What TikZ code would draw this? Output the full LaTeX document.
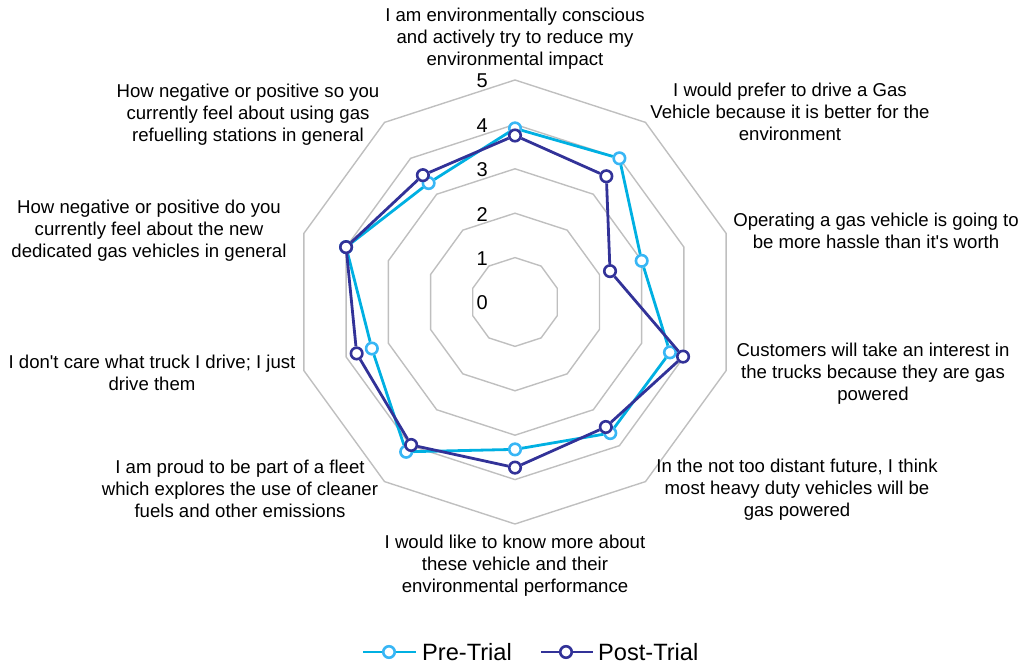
\documentclass[tikz,border=0pt]{standalone}
\usepackage{fontspec}
\setmainfont{Liberation Sans}[Ligatures=TeXOff]
\definecolor{ringgray}{RGB}{191,191,191}
\definecolor{preline}{RGB}{0,176,226}
\definecolor{premark}{RGB}{56,182,245}
\definecolor{postline}{RGB}{50,50,152}
\begin{document}
\begin{tikzpicture}[x=1bp,y=1bp,
  font=\fontsize{18.6bp}{22bp}\selectfont,
  ring/.style={draw=ringgray, line width=1.4bp, line join=miter},
  lbl/.style={align=center, inner sep=0pt},
  tick/.style={anchor=east, inner sep=0pt, font=\fontsize{20bp}{22bp}\selectfont},
  premk/.style={circle, draw=premark, fill=white, line width=2.6bp, minimum size=11.5bp, inner sep=0pt},
  postmk/.style={circle, draw=postline, fill=white, line width=2.6bp, minimum size=11.5bp, inner sep=0pt},
  preln/.style={draw=preline, line width=2.8bp, line join=round},
  postln/.style={draw=postline, line width=2.8bp, line join=round},
  legtext/.style={anchor=west, inner sep=0pt, font=\fontsize{23.6bp}{26bp}\selectfont}]
\useasboundingbox (0,0) rectangle (1025,666);
\begin{scope}[shift={(515,364)}]
  % rings
  \foreach \k in {1,...,5} {
    \draw[ring] (90:\k*44.4) \foreach \i in {1,...,9} { -- ({90-36*\i}:\k*44.4) } -- cycle;
  }
  % tick labels
  \foreach \k in {0,...,5} {
    \node[tick] (t\k) at (-27,\k*44.4-1) {\k};
  }
  % pre-trial series
  \foreach \v [count=\i from 0] in {3.91,4.0,3.0,3.67,3.65,3.32,4.17,3.39,4.0,3.31} {
    \node[premk] (pre\i) at ({90-36*\i}:\v*44.4) {};
  }
  \draw[preln] (pre0) -- (pre1) -- (pre2) -- (pre3) -- (pre4) -- (pre5) -- (pre6) -- (pre7) -- (pre8) -- (pre9) -- (pre0);
  % post-trial series
  \foreach \v [count=\i from 0] in {3.75,3.5,2.25,3.98,3.48,3.73,3.98,3.75,4.0,3.53} {
    \node[postmk] (post\i) at ({90-36*\i}:\v*44.4) {};
  }
  \draw[postln] (post0) -- (post1) -- (post2) -- (post3) -- (post4) -- (post5) -- (post6) -- (post7) -- (post8) -- (post9) -- (post0);
\end{scope}
% axis labels
\node[lbl] (L0) at (515,627) {I am environmentally conscious\\and actively try to reduce my\\environmental impact};
\node[lbl] (L1) at (790,554) {I would prefer to drive a Gas\\Vehicle because it is better for the\\environment};
\node[lbl] (L2) at (876,435) {Operating a gas vehicle is going to\\be more hassle than it's worth};
\node[lbl] (L3) at (873,292) {Customers will take an interest in\\the trucks because they are gas\\powered};
\node[lbl] (L4) at (797,176) {In the not too distant future, I think\\most heavy duty vehicles will be\\gas powered};
\node[lbl] (L5) at (515,100) {I would like to know more about\\these vehicle and their\\environmental performance};
\node[lbl] (L6) at (240,177) {I am proud to be part of a fleet\\which explores the use of cleaner\\fuels and other emissions};
\node[lbl] (L7) at (152,293) {I don't care what truck I drive; I just\\drive them};
\node[lbl] (L8) at (149,435) {How negative or positive do you\\currently feel about the new\\dedicated gas vehicles in general};
\node[lbl] (L9) at (248,551) {How negative or positive so you\\currently feel about using gas\\refuelling stations in general};
% legend
\coordinate (pa) at (363,14);
\coordinate (pb) at (416,14);
\coordinate (qa) at (541,14);
\coordinate (qb) at (593,14);
\draw[preln] (pa) -- (pb);
\node[premk] (lgpre) at (389,14) {};
\node[legtext] (lgpret) at (422,14) {Pre-Trial};
\draw[postln] (qa) -- (qb);
\node[postmk] (lgpost) at (566,14) {};
\node[legtext] (lgpostt) at (598,14) {Post-Trial};
\end{tikzpicture}
\end{document}
